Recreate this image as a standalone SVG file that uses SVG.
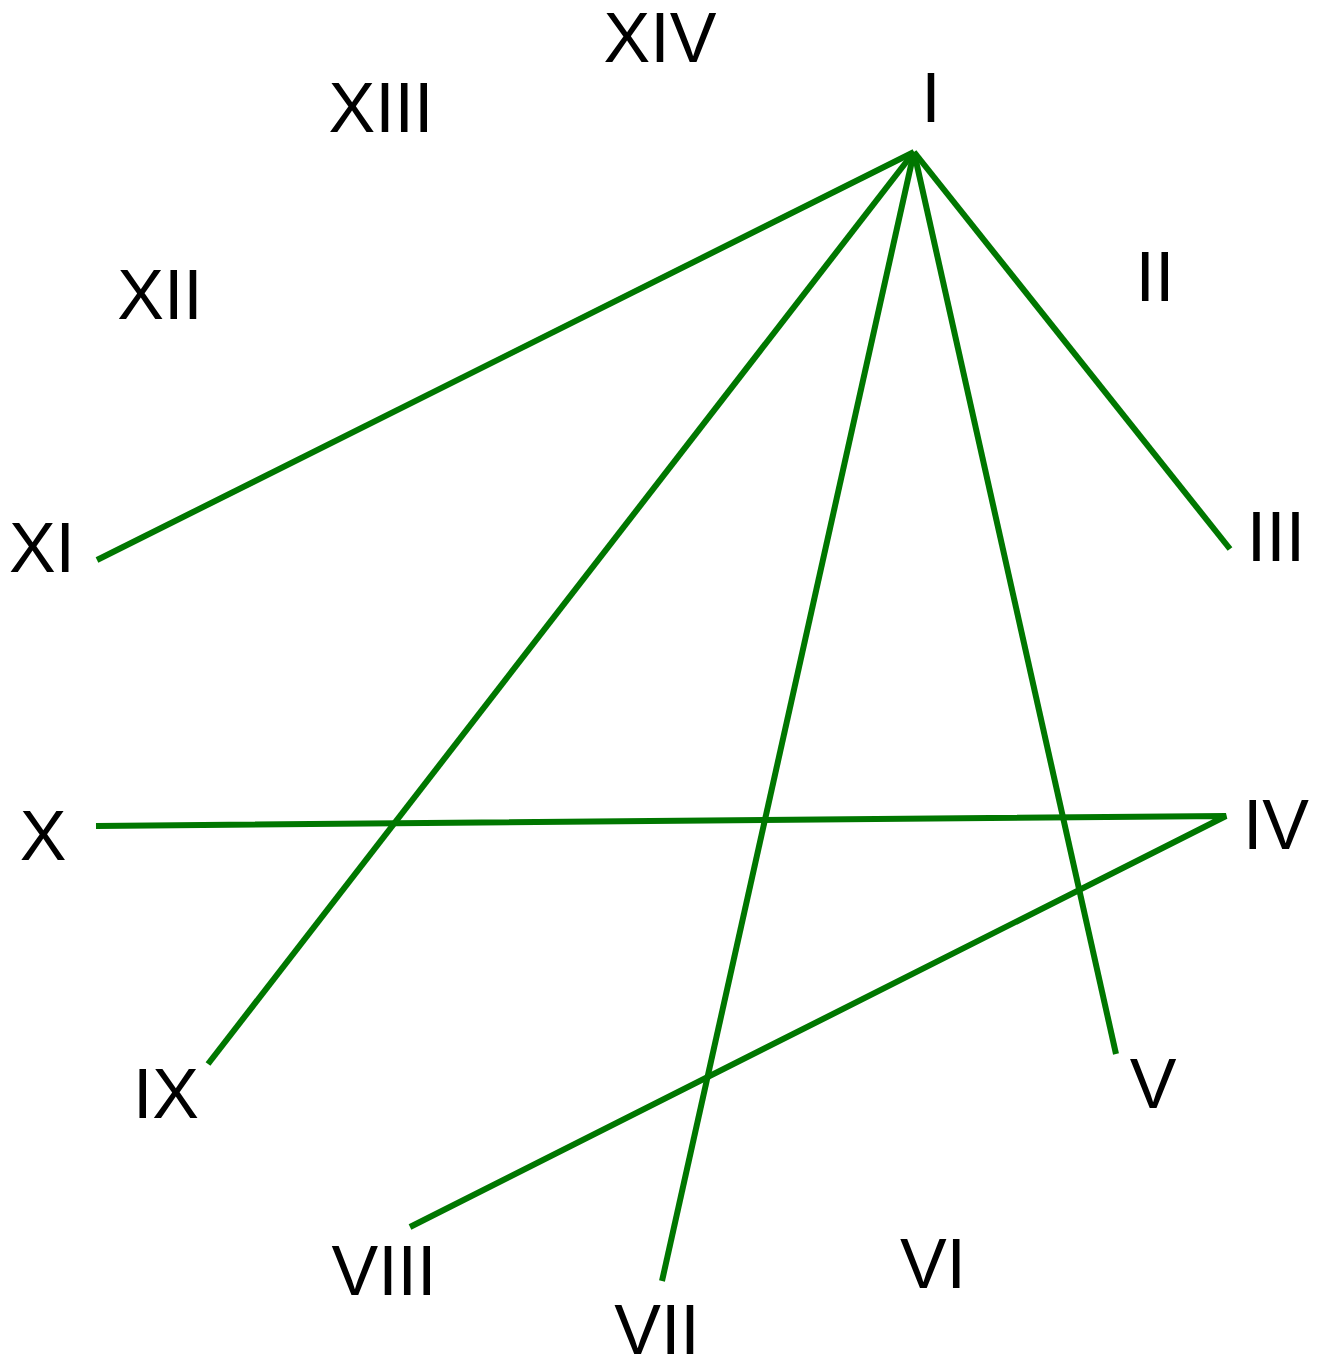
<svg xmlns="http://www.w3.org/2000/svg" width="1321" height="1359" viewBox="0 0 1321 1359">
<style>
.lbl{font-family:"Liberation Sans",Arial,sans-serif;font-size:70px;fill:#000;text-anchor:middle}
.edge{stroke:#007700;stroke-width:6;fill:none;stroke-linejoin:miter}
</style>
<rect width="1321" height="1359" fill="#fff"/>
<g id="connectors">
<line class="edge" x1="914" y1="152" x2="97" y2="560"/>
<line class="edge" x1="914" y1="152" x2="208" y2="1064"/>
<line class="edge" x1="914" y1="152" x2="662" y2="1281"/>
<line class="edge" x1="914" y1="152" x2="1116" y2="1054"/>
<line class="edge" x1="914" y1="152" x2="1230" y2="549"/>
<polyline class="edge" points="96,826 1226,816 410,1227"/>
</g>
<g id="n1"><text class="lbl" x="931" y="122">I</text></g>
<g id="n2"><text class="lbl" x="1155" y="301">II</text></g>
<g id="n3"><text class="lbl" x="1276" y="561">III</text></g>
<g id="n4"><text class="lbl" x="1276" y="849">IV</text></g>
<g id="n5"><text class="lbl" x="1153" y="1108">V</text></g>
<g id="n6"><text class="lbl" x="933" y="1288">VI</text></g>
<g id="n7"><text class="lbl" x="657" y="1354">VII</text></g>
<g id="n8"><text class="lbl" x="384" y="1295">VIII</text></g>
<g id="n9"><text class="lbl" x="166" y="1118">IX</text></g>
<g id="n10"><text class="lbl" x="43" y="860">X</text></g>
<g id="n11"><text class="lbl" x="42" y="572">XI</text></g>
<g id="n12"><text class="lbl" x="160" y="319">XII</text></g>
<g id="n13"><text class="lbl" x="381" y="132">XIII</text></g>
<g id="n14"><text class="lbl" x="660" y="62">XIV</text></g>
</svg>
